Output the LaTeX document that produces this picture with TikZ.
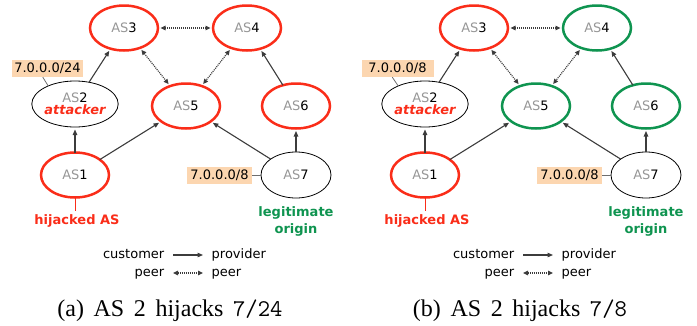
\documentclass[tikz,border=0pt]{standalone}
\usepackage{fontspec}
\setmainfont{DejaVu Sans}
\newfontfamily\capfont{Liberation Serif}
\usetikzlibrary{shapes.geometric,arrows.meta}
\definecolor{hijred}{RGB}{250,45,25}
\definecolor{legitgreen}{RGB}{15,148,80}
\definecolor{asgray}{RGB}{150,150,150}
\definecolor{edgegray}{RGB}{60,60,60}
\definecolor{tiegray}{RGB}{110,110,110}
\definecolor{pfxfill}{RGB}{252,214,176}
\newcommand\asl[1]{\textcolor{asgray}{AS}#1}
\newcommand\capsp{\hspace{0.4em}}
\newcommand\ASpanel[9]{%
\begin{scope}[xshift=#2pt]
\node[#3] (#1-3) at (124,28) {\asl{3}};
\node[#4] (#1-4) at (247,28) {\asl{4}};
\node[#5] (#1-5) at (186,106) {\asl{5}};
\node[#6] (#1-6) at (296,106) {\asl{6}};
\node[plain, align=center] (#1-2) at (75,104) {\asl{2}\\\textcolor{hijred}{\bfseries\itshape attacker}};
\node[hot] (#1-1) at (75,175) {\asl{1}};
\node[plain] (#1-7) at (296,175) {\asl{7}};
\node[pfx, minimum width=#8] (#1-p2) at (47.5,68.5) {#7};
\node[pfx, minimum width=65pt] (#1-p7) at (219.5,175) {7.0.0.0/8};
\node[tag, text=hijred] (#1-hj) at (77,221) {hijacked AS};
\node[tag, text=legitgreen, align=center] (#1-lg) at (296,221) {legitimate\\origin};
\draw[cp] (#1-2) -- (#1-3);
\draw[cp] (#1-1) -- (#1-2);
\draw[cp] (#1-1) -- (#1-5);
\draw[cp] (#1-7) -- (#1-5);
\draw[cp] (#1-7) -- (#1-6);
\draw[cp] (#1-6) -- (#1-4);
\draw[peer] (#1-3) -- (#1-4);
\draw[peer] (#1-3) -- (#1-5);
\draw[peer] (#1-4) -- (#1-5);
\coordinate (#1-p2t) at ([xshift=31pt]#1-p2.south west);
\draw[tie] (#1-p2t) -- (#1-2.146);
\draw[tie] (#1-p7.east) -- (#1-7.west);
\draw[hottie] (#1-1.south) -- (#1-1.south |- #1-hj.north);
\node[leg, anchor=east] (#1-lc) at (173,255) {customer};
\node[leg, anchor=west] (#1-lpr) at (203,255) {provider};
\node[leg, anchor=east] (#1-lp1) at (173,273) {peer};
\node[leg, anchor=west] (#1-lp2) at (203,273) {peer};
\draw[cp, shorten >=0pt] (#1-lc) -- (#1-lpr);
\draw[peer, shorten >=0pt, shorten <=0pt] (#1-lp1) -- (#1-lp2);
\node[capt] (#1-cap) at (170,316) {#9};
\end{scope}}
\begin{document}
\begin{tikzpicture}[x=1pt,y=-1pt,
  asbase/.style={ellipse, minimum width=68pt, minimum height=45pt, inner sep=0pt, outer sep=0pt, font=\fontsize{13}{12.5}\selectfont},
  hot/.style={asbase, draw=hijred, line width=2.5pt},
  good/.style={asbase, draw=legitgreen, line width=2.5pt},
  plain/.style={asbase, draw=black, line width=0.8pt, minimum width=70pt, minimum height=46pt},
  cp/.style={draw=edgegray, line width=1.1pt, -{Triangle[length=5.5pt,width=4.5pt]}, shorten >=2.5pt},
  peer/.style={draw=edgegray, line width=1.2pt, dash pattern=on 1pt off 1pt, {Triangle[length=5pt,width=4.5pt]}-{Triangle[length=5pt,width=4.5pt]}, shorten >=2.5pt, shorten <=2.5pt},
  pfx/.style={fill=pfxfill, inner xsep=0pt, inner ysep=0pt, minimum height=17pt, font=\fontsize{13}{13}\selectfont},
  tie/.style={draw=tiegray, line width=0.8pt},
  hottie/.style={draw=hijred, line width=1pt},
  tag/.style={inner sep=3pt, font=\fontsize{13}{17}\selectfont\bfseries},
  leg/.style={inner xsep=8.5pt, inner ysep=0pt, text height=9pt, text depth=2.5pt, font=\fontsize{13}{13}\selectfont},
  capt/.style={anchor=base, inner sep=0pt, font=\capfont\fontsize{24}{28}\selectfont}
]
\useasboundingbox (0,0) rectangle (697,325);
\ASpanel{a}{0}{hot}{hot}{hot}{hot}{7.0.0.0/24}{71pt}{(a)\capsp AS\capsp 2\capsp hijacks\capsp{\ttfamily 7/24}}
\ASpanel{b}{350}{hot}{good}{good}{good}{7.0.0.0/8}{72pt}{(b)\capsp AS\capsp 2\capsp hijacks\capsp{\ttfamily 7/8}}
\end{tikzpicture}
\end{document}
